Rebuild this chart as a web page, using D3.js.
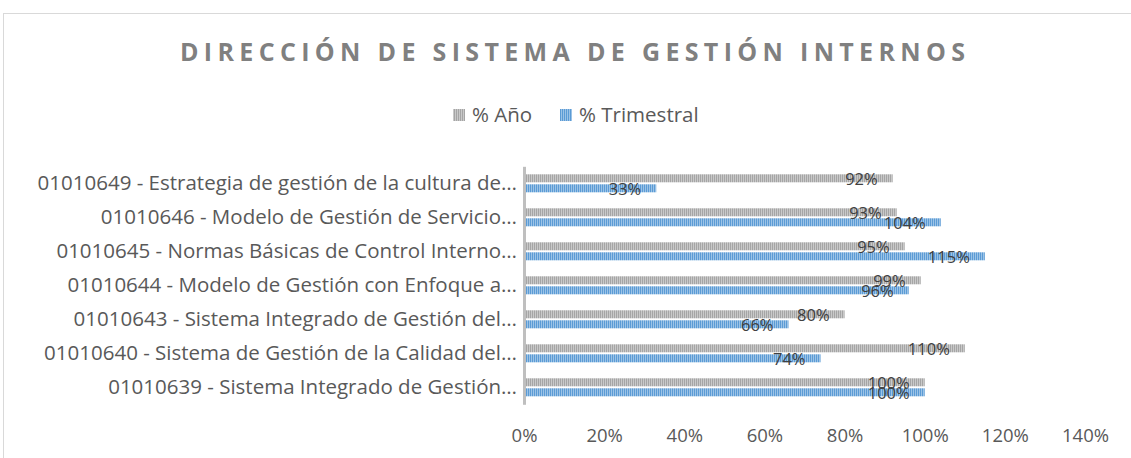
<!DOCTYPE html>
<html>
<head>
<meta charset="utf-8">
<script src="https://cdn.jsdelivr.net/npm/d3@7"></script>
<style>
  body { margin: 0; background: #fff; }
  text { font-family: 'Open Sans', sans-serif; }
</style>
</head>
<body>
<script>
// chart data, top row first
var categories = [
  '01010649 - Estrategia de gestión de la cultura de…',
  '01010646 - Modelo de Gestión de Servicio…',
  '01010645 - Normas Básicas de Control Interno…',
  '01010644 - Modelo de Gestión con Enfoque a…',
  '01010643 - Sistema Integrado de Gestión del…',
  '01010640 - Sistema de Gestión de la Calidad del…',
  '01010639 - Sistema Integrado de Gestión…'
];
var seriesNames = ['% Año', '% Trimestral'];
var anoValues = [0.92, 0.93, 0.95, 0.99, 0.80, 1.10, 1.00];
var trimValues = [0.33, 1.04, 1.15, 0.96, 0.66, 0.74, 1.00];
var xTicks = [0, 0.2, 0.4, 0.6, 0.8, 1.0, 1.2, 1.4];

var w = 1131, h = 458;

var svg = d3.select('body').append('svg')
  .attr('width', w)
  .attr('height', h);

// striped fills like the excel pattern
var defs = svg.append('defs');
function stripes(id, dark, light) {
  var p = defs.append('pattern')
    .attr('id', id)
    .attr('patternUnits', 'userSpaceOnUse')
    .attr('width', 2).attr('height', 10);
  p.append('rect').attr('width', 2).attr('height', 10).attr('fill', light);
  p.append('rect').attr('width', 1).attr('height', 10).attr('fill', dark);
}
stripes('patAno', '#a5a5a5', '#c9c9c9');
stripes('patTrim', '#5b9bd5', '#9cc3e6');
var fills = ['url(#patAno)', 'url(#patTrim)'];

// chart border
svg.append('rect')
  .attr('x', 3.5).attr('y', 13.5)
  .attr('width', 1300).attr('height', 600)
  .attr('fill', 'none')
  .attr('stroke', '#d9d9d9');

var x = d3.scaleLinear().domain([0, 1.4]).range([524, 1085]);
var y = d3.scaleBand().domain(categories).range([166.3, 404.3]);
var ySub = d3.scaleBand().domain(seriesNames).range([8, 26]).paddingInner(0.2);

// title
svg.append('text')
  .attr('x', 180).attr('y', 61)
  .attr('textLength', 785)
  .attr('lengthAdjust', 'spacing')
  .style('font-size', '25px')
  .style('font-weight', 'bold')
  .attr('fill', '#808080')
  .text('DIRECCIÓN DE SISTEMA DE GESTIÓN INTERNOS');

// legend
var legendX = [453, 560];
seriesNames.forEach(function(name, i) {
  svg.append('rect')
    .attr('x', legendX[i]).attr('y', 109)
    .attr('width', 12).attr('height', 12)
    .attr('fill', fills[i]);
  svg.append('text')
    .attr('x', legendX[i] + 19).attr('y', 122)
    .style('font-size', '20.5px')
    .attr('fill', '#595959')
    .text(name);
});

var rows = categories.map(function(c, i) {
  return { cat: c, vals: [anoValues[i], trimValues[i]] };
});

var groups = svg.selectAll('.row')
  .data(rows)
  .enter()
  .append('g')
  .attr('class', 'row')
  .attr('transform', (d) => 'translate(0,' + y(d.cat) + ')');

groups.selectAll('rect')
  .data((d) => d.vals.map((v, i) => ({ v: v, s: seriesNames[i], i: i })))
  .enter()
  .append('rect')
  .attr('x', x(0))
  .attr('y', (d) => ySub(d.s))
  .attr('width', (d) => x(d.v) - x(0))
  .attr('height', ySub.bandwidth())
  .attr('fill', (d) => fills[d.i]);

groups.selectAll('.lbl')
  .data((d) => d.vals.map((v, i) => ({ v: v, s: seriesNames[i] })))
  .enter()
  .append('text')
  .attr('class', 'lbl')
  .attr('x', (d) => x(d.v) - 15)
  .attr('y', (d) => ySub(d.s) + ySub.bandwidth() / 2 + 6.5)
  .attr('text-anchor', 'end')
  .style('font-size', '16.5px')
  .attr('fill', '#404040')
  .text((d) => Math.round(d.v * 100) + '%');

// category axis
var yAxis = d3.axisLeft(y).tickSize(0).tickPadding(7);
var gy = svg.append('g')
  .attr('transform', 'translate(' + x(0) + ',0)')
  .call(yAxis);
gy.select('.domain').attr('stroke', '#bfbfbf').attr('stroke-width', 3);
gy.selectAll('text')
  .style('font-size', '20.5px')
  .attr('fill', '#595959');

// value axis, labels only
var xAxis = d3.axisBottom(x).tickValues(xTicks).tickSize(0).tickPadding(0)
  .tickFormat(d3.format('.0%'));
var gx = svg.append('g')
  .attr('transform', 'translate(0,429)')
  .call(xAxis);
gx.select('.domain').remove();
gx.selectAll('text')
  .style('font-size', '18.5px')
  .attr('fill', '#595959');
</script>
</body>
</html>
